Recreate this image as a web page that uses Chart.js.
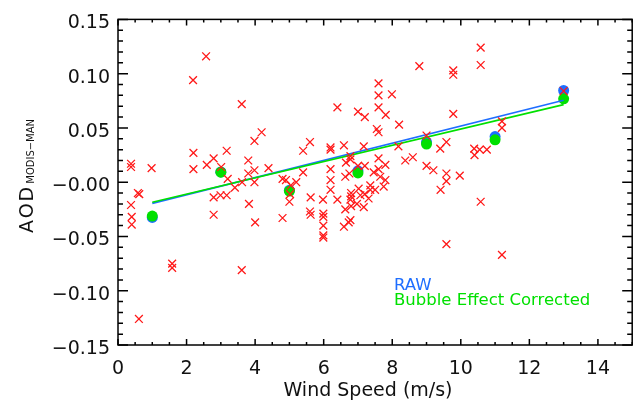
<!DOCTYPE html>
<html>
<head>
<meta charset="utf-8">
<script src="https://cdn.jsdelivr.net/npm/chart.js@4.4.1/dist/chart.umd.min.js"></script>
<style>
  html, body { margin: 0; padding: 0; background: #fff; }
  #wrap { position: relative; width: 639px; height: 407px; }
</style>
</head>
<body>
<div id="wrap"><canvas id="chart"></canvas></div>
<script>
// single matchups: wind speed (m/s) vs AOD difference (MODIS - MAN)
const windSpeed = [
  0.38, 0.38, 0.98, 0.58, 0.62, 0.38, 0.40, 0.40, 0.61, 1.58, 1.58,
  2.19, 2.57, 2.20, 2.20, 2.59, 2.79, 3.01, 3.17, 3.20, 2.79, 2.99, 3.17, 2.79,
  3.41, 3.62, 3.61, 3.61, 3.80, 3.80, 3.82, 3.98, 3.98, 3.98, 4.00, 4.19, 4.39,
  4.80, 4.90, 4.80, 5.02, 5.00, 5.04, 5.20, 5.40, 5.40, 5.60, 5.62, 5.60, 5.62,
  5.98, 5.99, 5.99, 5.99, 5.99, 5.99,
  6.20, 6.20, 6.20, 6.20, 6.20, 6.40, 6.40,
  6.59, 6.65, 6.63, 6.75, 6.63, 6.59, 6.78, 6.78, 6.80, 6.80, 6.80, 6.78, 6.73, 6.78,
  7.00, 7.00, 7.02, 7.07, 6.97, 7.17, 7.17, 7.20, 7.20, 7.31, 7.36, 7.36, 7.46, 7.50, 7.65, 7.75, 7.80,
  7.60, 7.60, 7.60, 7.55, 7.60, 7.60, 7.60, 7.81, 7.80, 7.99,
  8.20, 8.18, 8.38, 8.60, 8.79,
  9.00, 9.00, 9.20, 9.40, 9.41, 9.58, 9.58, 9.58, 9.58, 9.78, 9.78, 9.78, 9.97,
  10.39, 10.40, 10.55, 10.76, 10.58, 10.58, 10.58, 11.20, 11.20, 11.20, 13.00, 7.20
];
const aodDiff = [
  0.017, 0.014, 0.013, -0.010, -0.011, -0.021, -0.032, -0.039, -0.126, -0.075, -0.079,
  0.094, 0.116, 0.027, 0.012, 0.016, 0.022, 0.014, 0.029, 0.003, -0.014, -0.012, -0.012, -0.030,
  -0.005, 0.000, 0.072, -0.081, 0.020, 0.008, -0.020, 0.038, 0.011, 0.000, -0.037, 0.046, 0.013,
  0.003, 0.002, -0.033, -0.011, -0.018, -0.003, 0.000, 0.029, 0.009, 0.037, -0.014, -0.027, -0.030,
  -0.016, -0.029, -0.032, -0.040, -0.049, -0.051,
  0.032, 0.030, 0.012, 0.002, -0.007, 0.069, -0.016,
  0.034, 0.018, 0.005, 0.008, -0.025, -0.041, 0.024, 0.021, -0.010, -0.013, -0.022, -0.035, -0.037, -0.016,
  0.065, 0.015, -0.006, -0.012, -0.020, -0.023, 0.033, 0.060, 0.015, -0.015, -0.007, -0.003, 0.009, -0.007, 0.005, -0.004, 0.002,
  0.091, 0.080, 0.069, 0.049, 0.046, 0.022, 0.012, 0.062, 0.016, 0.081,
  0.053, 0.033, 0.020, 0.023, 0.107,
  0.043, 0.015, 0.011, 0.031, -0.007, 0.037, 0.008, 0.001, -0.057, 0.103, 0.099, 0.063, 0.006,
  0.031, 0.025, 0.030, 0.030, 0.124, 0.108, -0.018, 0.056, 0.050, -0.067, 0.084, -0.011
];

// bin means
const binCenters = [1, 3, 5, 7, 9, 11, 13];
const rawMeans = [-0.0325, 0.0095, -0.0075, 0.0105, 0.0370, 0.0420, 0.0845];
const correctedMeans = [-0.0312, 0.0092, -0.0082, 0.0085, 0.0352, 0.0390, 0.0768];

// regression lines, end points
const fitX = [1, 13];
const rawFit = [-0.0195, 0.0755];
const correctedFit = [-0.0185, 0.0715];

const xTicks = [0, 2, 4, 6, 8, 10, 12, 14];
const yTicks = [-0.15, -0.10, -0.05, 0, 0.05, 0.10, 0.15];
const yTickLabels = ['\u22120.15', '\u22120.10', '\u22120.05', '\u22120.00', '0.05', '0.10', '0.15'];

const RED = '#ff1a1a';
const BLUE = '#1e6eff';
const GREEN = '#00e000';
const FONT = 'DejaVu Sans';

const pts = (xs, ys) => xs.map((v, i) => ({ x: v, y: ys[i] }));

// IDL style box with inward ticks, axis titles and text legend
const idlFrame = {
  id: 'idlFrame',
  afterDraw(chart) {
    const { ctx, chartArea: a, scales: { x, y } } = chart;
    ctx.save();
    ctx.strokeStyle = '#000';
    ctx.lineWidth = 1.5;
    ctx.strokeRect(a.left, a.top, a.right - a.left, a.bottom - a.top);
    ctx.beginPath();
    for (let i = 0; i <= 30; i++) {
      const px = x.getPixelForValue(i / 2);
      const len = i % 4 === 0 ? 6 : 3;
      ctx.moveTo(px, a.bottom); ctx.lineTo(px, a.bottom - len);
      ctx.moveTo(px, a.top); ctx.lineTo(px, a.top + len);
    }
    for (let i = -15; i <= 15; i++) {
      const py = y.getPixelForValue(i / 100);
      const len = i % 5 === 0 ? 10 : 5;
      ctx.moveTo(a.left, py); ctx.lineTo(a.left + len, py);
      ctx.moveTo(a.right, py); ctx.lineTo(a.right - len, py);
    }
    ctx.stroke();

    ctx.fillStyle = '#111';
    // x title
    ctx.font = '19px "' + FONT + '"';
    ctx.textAlign = 'center';
    ctx.textBaseline = 'middle';
    ctx.fillText('Wind Speed (m/s)', 368, 391);

    // y title with subscript
    ctx.save();
    ctx.translate(33, 233);
    ctx.rotate(-Math.PI / 2);
    ctx.textAlign = 'left';
    ctx.textBaseline = 'alphabetic';
    ctx.letterSpacing = '2px';
    ctx.font = '19px "' + FONT + '"';
    ctx.fillText('AOD', 0, 0);
    const w = ctx.measureText('AOD').width;
    ctx.letterSpacing = '0px';
    ctx.font = '10px "' + FONT + '"';
    ctx.fillText('MODIS\u2212MAN', w + 1, 1);
    ctx.restore();

    // legend text
    ctx.textAlign = 'left';
    ctx.textBaseline = 'alphabetic';
    ctx.font = '16.5px "' + FONT + '"';
    ctx.fillStyle = BLUE;
    ctx.fillText('RAW', 394, 290);
    ctx.fillStyle = GREEN;
    ctx.fillText('Bubble Effect Corrected', 394, 305);
    ctx.restore();
  }
};

new Chart(document.getElementById('chart'), {
  type: 'scatter',
  data: {
    datasets: [
      {
        label: 'matchups',
        data: pts(windSpeed, aodDiff),
        pointStyle: 'crossRot',
        pointRadius: 5.5,
        borderColor: RED,
        borderWidth: 1.3,
        order: 0
      },
      {
        label: 'Bubble Effect Corrected fit',
        type: 'line',
        data: pts(fitX, correctedFit),
        borderColor: GREEN,
        borderWidth: 1.6,
        pointRadius: 0,
        order: 1
      },
      {
        label: 'RAW fit',
        type: 'line',
        data: pts(fitX, rawFit),
        borderColor: BLUE,
        borderWidth: 1.6,
        pointRadius: 0,
        order: 2
      },
      {
        label: 'Bubble Effect Corrected',
        data: pts(binCenters, correctedMeans),
        pointStyle: 'circle',
        pointRadius: 5.5,
        backgroundColor: GREEN,
        borderWidth: 0,
        order: 3
      },
      {
        label: 'RAW',
        data: pts(binCenters, rawMeans),
        pointStyle: 'circle',
        pointRadius: 5.5,
        backgroundColor: BLUE,
        borderWidth: 0,
        order: 4
      }
    ]
  },
  options: {
    responsive: true,
    maintainAspectRatio: false,
    animation: false,
    layout: { padding: { top: 10, right: 4, left: 0, bottom: 0 } },
    plugins: {
      legend: { display: false },
      tooltip: { enabled: false }
    },
    scales: {
      x: {
        type: 'linear',
        min: 0,
        max: 15,
        afterBuildTicks: s => { s.ticks = xTicks.map(v => ({ value: v })); },
        afterFit: s => { s.height = 62; },
        grid: { display: false, drawTicks: false },
        border: { display: false },
        ticks: {
          color: '#111',
          font: { family: FONT, size: 19 },
          padding: 13,
          maxRotation: 0,
          autoSkip: false,
          callback: v => String(v)
        }
      },
      y: {
        type: 'linear',
        min: -0.15,
        max: 0.15,
        afterBuildTicks: s => { s.ticks = yTicks.map(v => ({ value: v })); },
        afterFit: s => { s.width = 118; },
        grid: { display: false, drawTicks: false },
        border: { display: false },
        ticks: {
          color: '#111',
          font: { family: FONT, size: 19 },
          padding: 8,
          labelOffset: 4,
          autoSkip: false,
          callback: (v, i) => yTickLabels[i]
        }
      }
    }
  },
  plugins: [idlFrame]
});
</script>
</body>
</html>
